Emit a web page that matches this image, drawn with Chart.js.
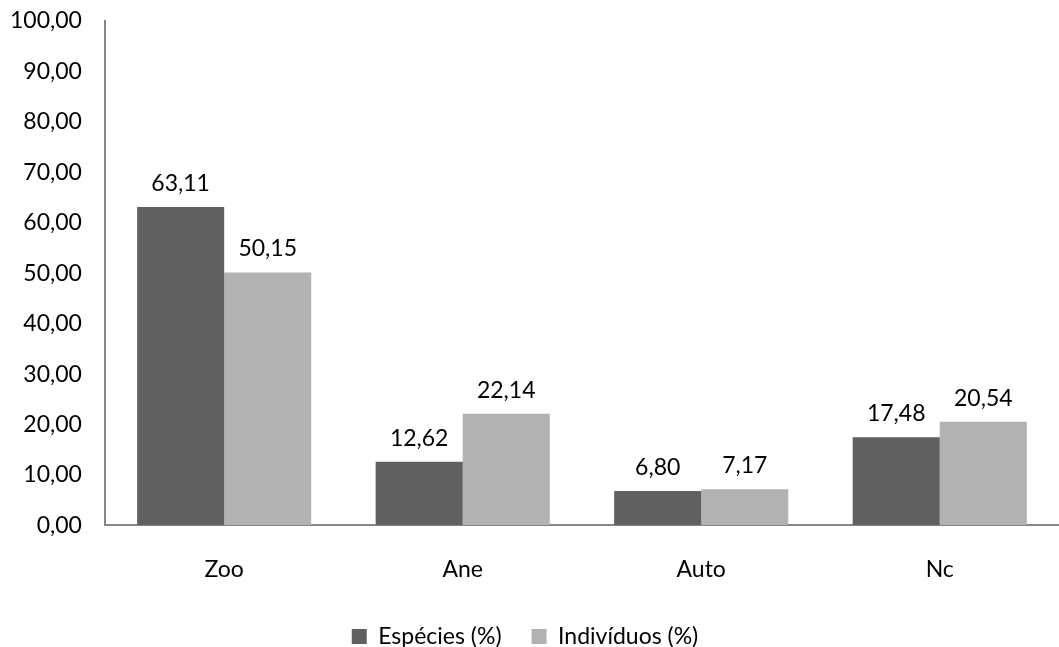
<!DOCTYPE html>
<html>
<head>
<meta charset="utf-8">
<script src="https://cdn.jsdelivr.net/npm/chart.js@4/dist/chart.umd.min.js"></script>
<style>
  html, body { margin: 0; padding: 0; background: #ffffff; }
  #wrap { width: 1059px; height: 647px; position: relative; }
</style>
</head>
<body>
<div id="wrap"><canvas id="c"></canvas></div>
<script>
// Dispersal syndromes: share of species and of individuals (%)
const categories = ['Zoo', 'Ane', 'Auto', 'Nc'];
const especies = [63.11, 12.62, 6.80, 17.48];
const individuos = [50.15, 22.14, 7.17, 20.54];
const seriesNames = ['Espécies (%)', 'Indivíduos (%)'];

const FONT = 'Lato, "Open Sans", sans-serif';
const SIZE = 23;
const fmt = v => v.toFixed(2).replace('.', ',');

// Writes each bar's value just above it
const valueLabels = {
  id: 'valueLabels',
  afterDatasetsDraw(chart) {
    const ctx = chart.ctx;
    ctx.save();
    ctx.font = SIZE + 'px ' + FONT;
    ctx.fillStyle = '#000000';
    ctx.textAlign = 'center';
    ctx.textBaseline = 'bottom';
    chart.data.datasets.forEach((ds, i) => {
      chart.getDatasetMeta(i).data.forEach((bar, j) => {
        ctx.fillText(fmt(ds.data[j]), bar.x, bar.y - 12);
      });
    });
    ctx.restore();
  }
};

new Chart(document.getElementById('c'), {
  type: 'bar',
  data: {
    labels: categories,
    datasets: [
      { label: seriesNames[0], data: especies, backgroundColor: '#606060', borderWidth: 0 },
      { label: seriesNames[1], data: individuos, backgroundColor: '#b2b2b2', borderWidth: 0 }
    ]
  },
  options: {
    responsive: true,
    maintainAspectRatio: false,
    animation: false,
    datasets: { bar: { categoryPercentage: 0.73, barPercentage: 1.0 } },
    layout: { padding: { top: 21, right: -4, bottom: -11, left: -13 } },
    scales: {
      x: {
        grid: { display: true, drawOnChartArea: false, drawTicks: false },
        border: { color: '#868686', width: 2 },
        // the wide legend spacing below would otherwise lift the axis
        afterFit(scale) { scale.height -= 18; },
        ticks: { font: { family: FONT, size: SIZE }, color: '#000000', padding: 30 }
      },
      y: {
        min: 0, max: 100,
        grid: { display: true, drawOnChartArea: false, drawTicks: false },
        border: { color: '#868686', width: 2 },
        // keep the label gap from adding space above the top tick
        afterFit(scale) { scale.paddingTop = 0; scale.paddingBottom = 0; },
        ticks: {
          stepSize: 10,
          font: { family: FONT, size: SIZE },
          color: '#000000',
          padding: 23,
          callback: v => fmt(v)
        }
      }
    },
    plugins: {
      legend: {
        position: 'bottom',
        labels: {
          font: { family: FONT, size: SIZE },
          color: '#000000',
          boxWidth: 15, boxHeight: 15,
          padding: 30
        }
      },
      tooltip: { enabled: false }
    }
  },
  plugins: [valueLabels]
});
</script>
</body>
</html>
